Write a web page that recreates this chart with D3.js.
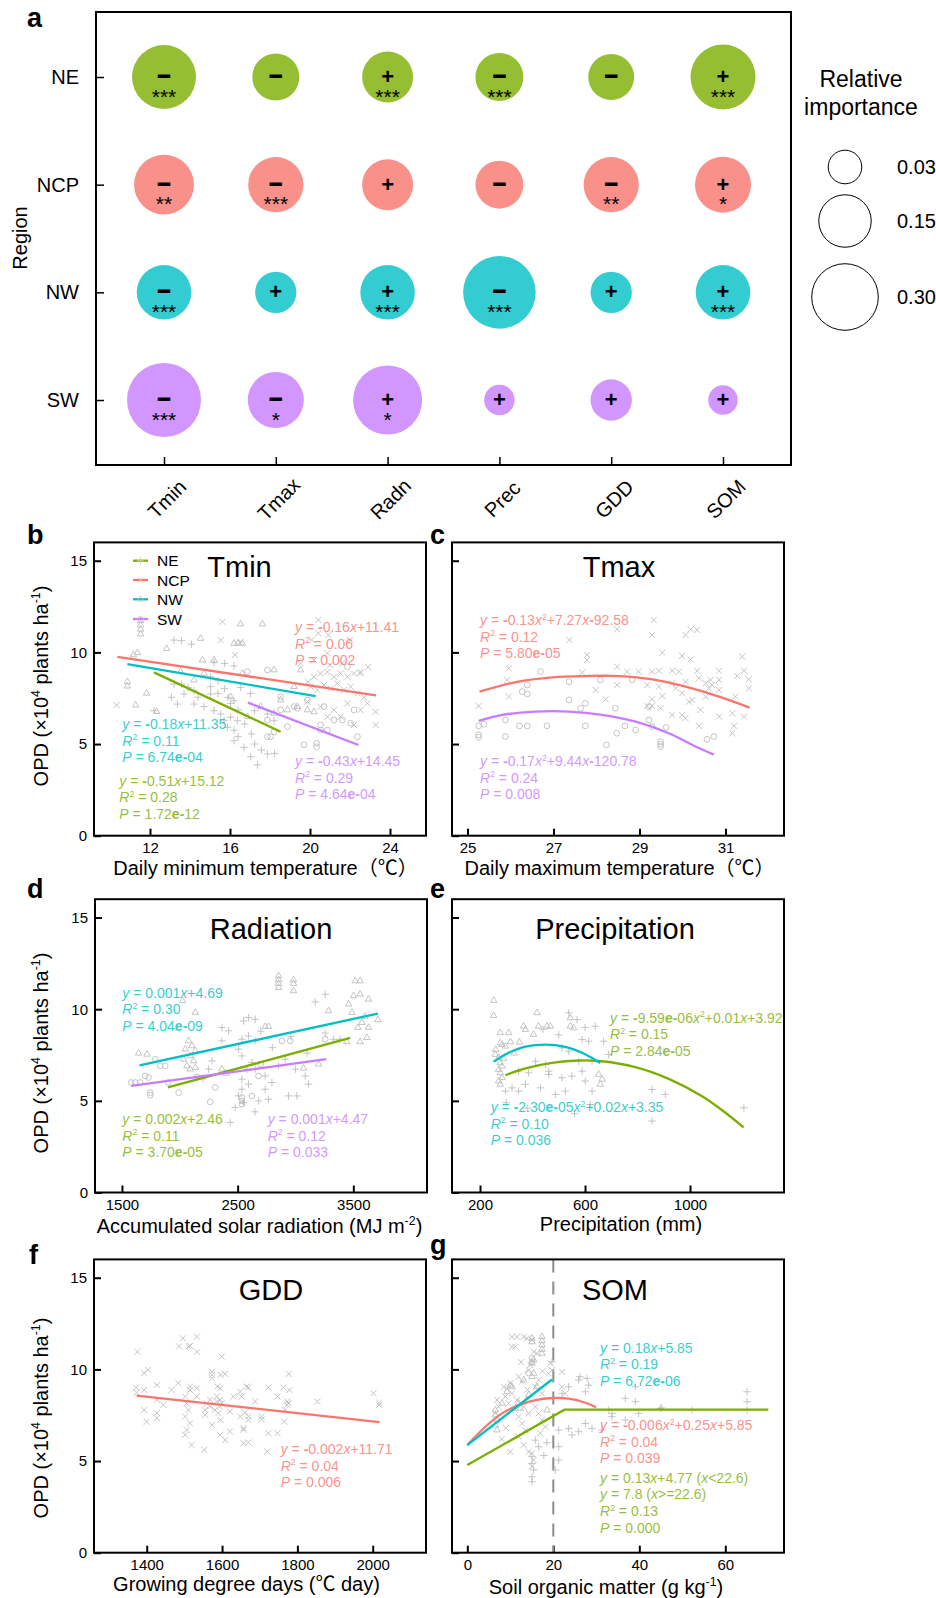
<!DOCTYPE html>
<html>
<head>
<meta charset="utf-8">
<script src="https://cdn.jsdelivr.net/npm/d3@7"></script>
<style>
  body { margin: 0; background: #fff; }
  text { font-family: "Liberation Sans", Arial, "Noto Sans CJK SC", sans-serif; }
</style>
</head>
<body>
<svg id="fig" width="936" height="1598"></svg>
<script>
// ---------- panel a data ----------
const regions = ["NE", "NCP", "NW", "SW"];
const factors = ["Tmin", "Tmax", "Radn", "Prec", "GDD", "SOM"];
const importance = [
  [0.268, 0.106, 0.137, 0.113, 0.098, 0.280],
  [0.222, 0.175, 0.137, 0.113, 0.175, 0.183],
  [0.169, 0.068, 0.169, 0.379, 0.068, 0.169],
  [0.399, 0.183, 0.331, 0.019, 0.068, 0.016]
];
const effectSign = [
  ["-", "-", "+", "-", "-", "+"],
  ["-", "-", "+", "-", "-", "+"],
  ["-", "+", "+", "-", "+", "+"],
  ["-", "-", "+", "+", "+", "+"]
];
const signif = [
  ["***", "", "***", "***", "", "***"],
  ["**", "***", "", "", "**", "*"],
  ["***", "", "***", "***", "", "***"],
  ["***", "*", "*", "", "", ""]
];
const legendSizes = [0.03, 0.15, 0.30];

// ---------- scatter data (x, OPD) ----------
const tminNE = [[13.2,10.67],[13.57,10.64],[14.07,10.45],[15.2,9.44],[15.73,9.4],[16.2,9.26],[13.2,8.27],[13.57,8.27],[13.9,8.09],[14.2,7.91],[14.4,7.55],[15.03,7.73],[15.4,7.76],[15.73,8.02],[15.9,7.55],[16.2,7.36],[16.4,6.86],[16.03,6.46],[16.37,6.27],[16.73,6.09],[17.07,5.55],[17.23,5.0],[17.57,4.67],[17.87,4.46],[18.23,4.49],[17.37,3.86],[17.03,4.31],[16.7,4.82],[16.2,5.18],[16.4,5.4],[15.87,5.91],[15.7,6.27],[15.2,6.82],[15.53,6.64],[14.7,7.04],[14.2,7.18],[13.7,7.73],[13.37,7.18],[12.2,6.82],[13.07,7.55],[17.03,7.76],[17.23,6.82],[17.87,6.64],[18.2,6.27],[15.03,8.67],[15.4,8.45],[16.53,8.09],[16.2,5.76],[16.03,7.22],[15.03,8.13]];
const tminNCP = [[15.62,11.67],[15.53,10.67],[16.53,10.58],[20.42,11.77],[20.42,11.04],[20.92,10.95],[20.08,10.68],[22.0,10.68],[16.25,9.86],[10.33,7.13],[20.2,8.67],[20.53,8.85],[20.87,8.93],[21.2,8.67],[21.53,8.85],[21.87,8.67],[22.2,8.85],[22.53,8.93],[20.03,8.13],[20.37,7.95],[20.7,8.22],[21.03,8.02],[21.37,8.31],[21.7,7.95],[22.03,8.13],[22.37,7.76],[22.7,7.55],[22.87,7.22],[23.28,6.76],[23.28,6.04],[21.87,7.22],[21.2,6.86],[20.87,6.49],[20.53,7.04],[19.87,7.31],[21.53,6.49],[22.2,6.04],[22.53,6.86],[20.2,9.58],[19.53,9.4],[20.87,9.95],[22.5,8.86],[21.0,9.3],[22.9,9.2],[19.9,8.4],[21.6,9.4]];
const tminNW = [[11.53,11.73],[11.53,11.49],[11.53,11.26],[11.53,11.0],[11.37,9.98],[11.17,9.86],[10.87,8.4],[10.87,8.16],[11.28,7.13],[12.33,6.77],[11.83,7.77],[12.83,10.2],[14.53,10.76],[16.53,11.55],[17.62,11.55],[16.2,10.49],[16.4,10.49],[16.62,10.49],[14.62,9.58],[15.2,9.58],[16.62,8.85],[14.7,8.85],[16.03,7.58],[18.2,9.04],[18.53,7.4],[19.2,8.13],[19.37,7.04],[19.87,6.86],[20.2,6.76],[17.53,7.04],[19.53,9.04],[16.87,6.49],[14.2,8.49],[13.53,8.95],[18.87,6.86],[18.2,6.67]];
const tminSW = [[16.87,8.95],[17.87,9.04],[19.37,6.95],[20.53,6.04],[20.87,5.76],[21.2,6.31],[21.62,6.31],[22.37,5.4],[19.7,4.95],[20.33,5.04],[20.33,4.85],[17.87,5.4],[18.03,5.4],[18.87,5.95],[18.53,6.86],[17.87,6.31],[19.87,7.4],[19.2,7.04],[20.7,7.04],[22.2,6.86],[22.03,6.13],[18.53,7.58],[21.87,9.22],[18.2,5.67],[20.53,5.76]];

const tmaxNCP = [[29.33,11.77],[28.48,11.26],[27.37,10.68],[29.29,10.95],[30.07,10.95],[30.19,11.26],[30.34,11.22],[27.78,9.86],[27.78,9.59],[29.53,9.99],[29.99,9.81],[30.19,9.62],[31.39,9.77],[25.96,9.13],[27.67,8.9],[28.48,9.22],[28.71,8.95],[28.98,8.95],[29.29,8.95],[29.45,9.0],[29.76,9.0],[29.92,8.95],[30.34,9.0],[30.85,9.0],[31.43,9.0],[31.27,8.71],[31.54,8.53],[31.54,8.04],[25.92,8.5],[25.96,7.59],[25.26,7.08],[27.98,7.95],[28.21,7.44],[28.48,8.22],[29.18,8.22],[29.29,7.44],[29.18,7.08],[29.29,7.08],[29.49,6.95],[29.53,7.62],[29.76,8.31],[29.84,8.04],[29.99,7.77],[30.07,8.4],[30.15,7.31],[30.23,7.4],[30.38,8.59],[30.54,8.31],[30.61,8.04],[30.69,8.22],[30.65,8.5],[30.42,6.86],[30.54,7.59],[30.85,8.5],[30.85,7.95],[29.76,6.59],[29.99,6.59],[30.07,6.41],[30.85,6.5],[31.16,6.68],[31.2,5.99],[31.16,5.59],[31.43,6.5],[30.38,5.99],[31.23,7.59],[29.45,8.13]];
const tmaxSW = [[26.7,8.95],[27.36,8.4],[26.39,8.22],[26.27,7.86],[26.39,7.73],[28.09,8.5],[28.83,8.5],[27.36,7.41],[27.74,7.22],[27.63,6.95],[28.44,6.95],[29.22,7.04],[25.88,6.31],[25.26,5.99],[25.38,6.08],[25.26,5.5],[25.26,5.37],[25.88,5.41],[26.21,5.99],[26.39,5.99],[26.85,5.99],[27.74,5.99],[28.66,5.99],[28.47,5.59],[29.22,6.31],[29.29,5.95],[29.62,5.91],[29.49,5.13],[29.49,4.99],[29.49,4.86],[28.23,4.95],[30.57,5.26],[30.73,5.41],[28.91,5.77]];

const radnNE = [[2594,9.54],[2652,9.45],[2551,9.36],[2364,9.0],[2422,8.82],[2537,8.36],[2594,8.54],[2652,8.27],[2364,8.27],[2278,7.18],[2249,6.73],[2508,7.82],[2537,7.45],[2623,7.09],[2652,6.73],[2580,6.73],[2537,6.18],[2594,5.91],[2537,5.63],[2508,5.27],[2551,4.91],[2479,4.64],[2436,3.82],[2681,5.0],[2767,5.09],[2738,5.63],[2796,6.0],[2738,6.36],[2854,6.91],[2911,7.27],[3000,6.73],[3084,6.36],[3113,5.91],[2940,5.27],[3012,5.27],[3171,10.4],[3257,10.82],[3257,8.7],[3330,8.36],[3385,8.36],[3100,7.6],[2800,7.9],[2960,8.5],[2700,8.8],[2200,6.2],[2650,4.4]];
const radnNW = [[2854,11.82],[2854,11.6],[2854,11.4],[2854,11.18],[2983,11.6],[2983,11.4],[2983,11.0],[3516,11.54],[3559,11.54],[3559,10.82],[3502,10.73],[3631,10.54],[3459,10.27],[3488,9.82],[3574,9.27],[3631,9.0],[3712,9.42],[3444,8.22],[3559,8.22],[3617,8.45],[3286,9.91],[2076,8.27],[2105,8.0],[2047,7.82],[2134,7.73],[2090,7.45],[2033,7.27],[2119,7.18],[2061,6.91],[2134,6.82],[2090,6.73],[2024,10.45],[2134,9.82],[1644,7.6],[1716,7.54],[2364,6.73],[2738,9.05],[2767,9.05],[3070,6.78],[2400,6.5],[3200,7.0],[3540,9.0],[3600,9.6]];
const radnSW = [[1580,6.0],[1615,6.0],[1658,6.0],[1701,6.36],[1730,6.27],[1745,5.45],[1745,5.31],[1788,7.27],[1831,6.91],[1874,6.91],[1990,5.45],[2263,4.94],[2306,5.73],[2537,5.18],[2537,5.0],[2537,4.82],[2623,5.27],[2681,6.36],[2883,8.27],[2955,8.27],[3257,8.36],[1900,6.0],[2150,6.3],[2700,7.0]];

const precNE = [[538,9.8],[570,9.43],[639,9.07],[589,8.34],[614,8.25],[671,8.25],[512,7.89],[538,7.71],[411,7.16],[449,6.98],[347,6.62],[385,6.53],[462,6.62],[462,6.44],[512,6.26],[550,6.35],[589,6.62],[601,6.08],[322,5.71],[347,5.53],[373,5.9],[430,5.71],[487,5.35],[525,5.53],[627,5.53],[855,5.62],[906,5.35],[855,3.9],[1205,4.62],[297,5.53],[576,7.16],[627,7.16],[690,7.53],[500,8.6],[440,8.9],[600,9.0],[300,4.9],[380,4.6],[560,4.3],[620,4.8]];
const precNW = [[252,10.47],[252,9.65],[277,8.71],[309,8.71],[277,8.16],[284,8.07],[297,7.98],[316,8.22],[258,7.53],[271,7.35],[277,7.07],[284,6.89],[271,6.71],[277,6.53],[284,6.26],[271,6.08],[277,5.9],[366,9.07],[373,8.89],[417,9.8],[423,9.07],[455,9.07],[468,9.07],[404,8.62],[544,9.52],[544,9.07],[557,8.98],[652,6.44],[665,6.17],[658,5.9],[260,7.8],[290,7.3],[350,8.2],[330,7.6]];

const gddNCP = [[1375,10.97],[1393,9.79],[1404,9.97],[1372,9.01],[1373,8.74],[1393,8.88],[1393,7.79],[1400,7.15],[1427,9.15],[1427,8.34],[1427,7.61],[1427,7.34],[1444,8.06],[1466,8.88],[1484,9.25],[1486,11.25],[1496,11.7],[1511,11.25],[1515,11.28],[1533,11.79],[1533,10.97],[1502,8.52],[1506,8.15],[1511,7.79],[1502,7.43],[1515,7.06],[1506,6.7],[1515,8.88],[1515,9.06],[1533,8.97],[1533,8.52],[1519,5.88],[1502,6.43],[1553,5.61],[1559,8.15],[1555,7.79],[1568,7.97],[1568,8.34],[1555,7.52],[1573,9.88],[1573,9.7],[1573,9.52],[1586,8.52],[1586,8.25],[1595,7.97],[1581,7.79],[1590,7.61],[1595,8.34],[1599,8.15],[1588,9.06],[1595,8.97],[1599,10.7],[1596,9.7],[1608,9.75],[1573,6.97],[1596,7.25],[1595,6.43],[1608,6.15],[1621,6.61],[1621,7.7],[1630,8.52],[1648,8.79],[1652,8.52],[1648,7.43],[1657,6.79],[1657,6.7],[1657,5.97],[1670,6.01],[1661,7.65],[1665,9.06],[1670,9.01],[1670,7.43],[1670,7.25],[1688,8.25],[1705,7.43],[1705,7.28],[1723,9.01],[1723,6.52],[1720,5.52],[1747,8.52],[1747,6.52],[1763,9.01],[1765,7.15],[1767,7.79],[1773,8.25],[1773,8.06],[1776,8.15],[1777,9.75],[1779,8.88],[1853,8.25],[2002,8.7],[2017,8.19],[2017,8.06]];

const somNCP = [[10.4,11.78],[11.56,11.78],[13.11,11.78],[13.88,11.69],[15.04,11.6],[8.46,9.05],[9.23,8.96],[10.0,9.24],[11.94,9.6],[12.72,9.33],[14.27,9.96],[14.66,10.24],[15.43,10.96],[16.2,10.87],[10.4,11.24],[11.17,11.24],[19.31,10.33],[19.7,9.96],[18.92,9.78],[22.02,9.87],[6.91,8.33],[7.29,7.96],[6.52,7.6],[7.68,7.24],[8.84,8.51],[9.62,8.15],[11.17,7.78],[11.94,7.42],[12.72,7.05],[13.49,6.69],[11.94,6.33],[13.11,5.87],[14.27,5.51],[10.0,5.51],[15.82,7.96],[16.59,7.6],[17.37,7.24],[18.15,6.87],[16.98,6.51],[22.02,9.05],[22.8,8.69],[15.82,9.05],[17.37,8.69],[16.59,9.42],[10.4,8.69],[11.56,8.33],[13.11,7.96],[14.27,7.6],[15.04,5.42],[15.43,5.05],[15.04,4.69],[9.0,6.8],[8.0,6.2],[14.0,8.9],[12.5,10.4],[17.5,9.9]];
const somNW = [[17.37,11.78],[17.37,11.56],[17.37,11.33],[17.37,11.09],[17.37,10.87],[15.04,11.69],[15.04,11.5],[15.43,10.51],[15.04,10.33],[15.43,9.78],[15.04,9.6],[10.4,9.05],[10.0,9.14],[13.11,9.42],[6.52,7.78],[6.52,7.51],[6.91,7.24],[6.52,6.96],[6.91,6.69],[8.07,8.15],[9.23,8.78],[11.94,8.15],[12.33,7.87],[14.27,8.6],[13.88,8.33],[16.2,9.05],[18.53,7.78]];
const somNE = [[19.7,10.42],[15.04,5.24],[15.04,4.87],[15.43,4.51],[15.04,4.14],[15.04,3.87],[15.82,6.14],[16.59,5.78],[21.25,6.69],[23.57,6.78],[24.35,6.42],[25.9,6.6],[25.9,9.42],[27.84,9.51],[28.22,9.14],[27.45,8.78],[23.57,9.05],[22.02,8.69],[36.75,8.42],[39.08,8.24],[39.08,9.05],[44.89,7.87],[52.26,7.78],[65.05,8.78],[65.05,8.24],[65.05,7.78],[27.45,7.05],[29.0,6.78],[21.25,5.78],[21.25,5.05],[20.47,4.51],[31.32,6.69],[36.75,7.24],[39.85,7.6],[32.87,7.78],[33.65,7.6],[26.2,9.6],[33.6,7.42],[45.2,7.9],[18.5,6.0],[17.8,5.3]];
const somSW = [[15.04,10.6],[15.04,10.42],[14.2,9.8]];

// ---------- fitted lines ----------
const tminFitNE = [[12.2,8.91],[18.53,5.67]];
const tminFitNCP = [[10.37,9.75],[23.3,7.66]];
const tminFitNW = [[10.87,9.36],[20.28,7.62]];
const tminFitSW = [[16.9,7.26],[22.42,4.95]];
const tmaxFitNCP = [[25.28,7.86],[26.19,8.41],[26.97,8.64],[27.74,8.71],[28.52,8.71],[29.3,8.53],[30.07,8.13],[30.85,7.59],[31.56,6.99]];
const tmaxFitSW = [[25.26,6.26],[25.81,6.59],[26.58,6.77],[27.36,6.77],[28.13,6.59],[28.91,6.22],[29.68,5.59],[30.23,4.95],[30.73,4.42]];
const radnFitNE = [[1897,5.74],[3473,8.43]];
const radnFitNW = [[1652,6.94],[3712,9.76]];
const radnFitSW = [[1580,5.82],[3266,7.27]];
const precFitNW = [[252,7.13],[309,7.62],[373,7.96],[449,8.07],[525,7.95],[589,7.62],[658,7.07]];
const precFitNE = [[297,6.4],[373,6.77],[474,7.07],[576,7.2],[665,7.16],[792,6.84],[919,6.2],[1046,5.25],[1135,4.35],[1204,3.55]];
const gddFitNCP = [[1373,8.57],[2018,7.12]];
const somFitNW = [[0,5.87],[19.7,9.45]];
const somFitNCP = [[0,5.87],[4.19,6.87],[8.07,7.6],[11.94,8.05],[15.82,8.33],[19.7,8.44],[23.57,8.4],[27.45,8.18],[29.93,7.93]];
const somFitNE = [[0,4.78],[22.6,7.8],[70,7.8]];
const somBreak = 20;

// ---------- equation labels ----------
const tminEqNCP = ["y = -0.16x+11.41", "R^{2} = 0.06", "P = 0.002"];
const tminEqNW = ["y = -0.18x+11.35", "R^{2} = 0.11", "P = 6.74e-04"];
const tminEqNE = ["y = -0.51x+15.12", "R^{2} = 0.28", "P = 1.72e-12"];
const tminEqSW = ["y = -0.43x+14.45", "R^{2} = 0.29", "P = 4.64e-04"];
const tmaxEqNCP = ["y = -0.13x^{2}+7.27x-92.58", "R^{2} = 0.12", "P = 5.80e-05"];
const tmaxEqSW = ["y = -0.17x^{2}+9.44x-120.78", "R^{2} = 0.24", "P = 0.008"];
const radnEqNW = ["y = 0.001x+4.69", "R^{2} = 0.30", "P = 4.04e-09"];
const radnEqNE = ["y = 0.002x+2.46", "R^{2} = 0.11", "P = 3.70e-05"];
const radnEqSW = ["y = 0.001x+4.47", "R^{2} = 0.12", "P = 0.033"];
const precEqNE = ["y = -9.59e-06x^{2}+0.01x+3.92", "R^{2} = 0.15", "P = 2.84e-05"];
const precEqNW = ["y = -2.30e-05x^{2}+0.02x+3.35", "R^{2} = 0.10", "P = 0.036"];
const gddEqNCP = ["y = -0.002x+11.71", "R^{2} = 0.04", "P = 0.006"];
const somEqNW = ["y = 0.18x+5.85", "R^{2} = 0.19", "P = 6.72e-06"];
const somEqNCP = ["y = -0.006x^{2}+0.25x+5.85", "R^{2} = 0.04", "P = 0.039"];
const somEqNE = ["y = 0.13x+4.77 (x<22.6)", "y = 7.8 (x>=22.6)", "R^{2} = 0.13", "P = 0.000"];

const colors = { NE: "#7CAE00", NCP: "#F8766D", NW: "#00BFC4", SW: "#C77CFF" };
const symbols = { NE: d3.symbolPlus, NCP: d3.symbolTimes, NW: d3.symbolTriangle2, SW: d3.symbolCircle };
const symSize = { NE: 20, NCP: 26, NW: 30, SW: 26 };

const svg = d3.select("#fig");

// text with ^{..} superscripts; eq=true also italicises y/x/R/P and bolds "-" and "e-"
function rich(sel, str, size, eq) {
  const runs = [];
  let i = 0;
  while (i < str.length) {
    if (str[i] === "^" && str[i + 1] === "{") {
      const j = str.indexOf("}", i);
      runs.push({ t: str.slice(i + 2, j), sup: true });
      i = j + 1;
      continue;
    }
    const ch = str[i];
    let st = "n";
    if (eq) {
      if ("yxRP".includes(ch)) st = "i";
      else if (ch === "-" || (ch === "e" && str[i + 1] === "-")) st = "b";
    }
    const last = runs[runs.length - 1];
    if (last && !last.sup && last.st === st) last.t += ch;
    else runs.push({ t: ch, st: st });
    i++;
  }
  let shift = 0;
  runs.forEach(r => {
    const t = sel.append("tspan").text(r.t);
    if (r.sup) {
      t.attr("font-size", size * 0.62).attr("dy", -size * 0.38);
      shift = size * 0.38;
    } else {
      if (shift) { t.attr("dy", shift); shift = 0; }
      if (r.st === "i") t.attr("font-style", "italic");
      if (r.st === "b") t.attr("font-weight", "bold");
    }
  });
}

// ================= panel a =================
const xa = d3.scalePoint().domain(factors).range([164, 723]);
const ya = d3.scalePoint().domain(regions).range([77, 400]);
const rScale = d3.scaleSqrt().domain([0.03, 0.30]).range([16.8, 33.3]);
const ga = svg.append("g");

ga.append("g").attr("transform", "translate(0,465)")
  .call(d3.axisBottom(xa).tickSize(-8).tickFormat(""))
  .call(g => g.select(".domain").remove())
  .selectAll("line").attr("stroke-width", 1.5);
ga.append("g").attr("transform", "translate(96,0)")
  .call(d3.axisLeft(ya).tickSize(-8).tickFormat(""))
  .call(g => g.select(".domain").remove())
  .selectAll("line").attr("stroke-width", 1.5);
ga.append("rect").attr("x", 96).attr("y", 12).attr("width", 695).attr("height", 453)
  .attr("fill", "none").attr("stroke", "#000").attr("stroke-width", 2);

regions.forEach((reg, i) => {
  factors.forEach((f, j) => {
    const cx = xa(f), cy = ya(reg);
    ga.append("circle").attr("cx", cx).attr("cy", cy).attr("r", rScale(importance[i][j]))
      .attr("fill", colors[reg]).attr("fill-opacity", 0.8);
    const s = effectSign[i][j];
    ga.append("text").attr("x", cx).attr("y", cy + 7)
      .attr("text-anchor", "middle")
      .attr("font-size", s === "-" ? 23 : 22).attr("font-weight", "bold")
      .attr("stroke", s === "-" ? "#000" : "none").attr("stroke-width", 0.9)
      .text(s === "-" ? "\u2212" : "+");
    if (signif[i][j]) {
      ga.append("text").attr("x", cx).attr("y", cy + 26.5).attr("text-anchor", "middle")
        .attr("font-size", 21).text(signif[i][j]);
    }
  });
  ga.append("text").attr("x", 79).attr("y", ya(reg) + 7).attr("text-anchor", "end")
    .attr("font-size", 20).text(reg);
});

factors.forEach(f => {
  ga.append("text").attr("transform", `translate(${xa(f) + 3},499) rotate(-45)`)
    .attr("text-anchor", "middle").attr("dy", "0.35em").attr("font-size", 20).text(f);
});
ga.append("text").attr("transform", "translate(27,238) rotate(-90)")
  .attr("text-anchor", "middle").attr("font-size", 20).text("Region");
ga.append("text").attr("x", 27).attr("y", 27).attr("font-size", 27).attr("font-weight", "bold").text("a");

ga.append("text").attr("x", 861).attr("y", 86.5).attr("text-anchor", "middle").attr("font-size", 23).text("Relative");
ga.append("text").attr("x", 861).attr("y", 115).attr("text-anchor", "middle").attr("font-size", 23).text("importance");
const legY = [167, 221, 297];
legendSizes.forEach((v, k) => {
  ga.append("circle").attr("cx", 845).attr("cy", legY[k]).attr("r", rScale(v))
    .attr("fill", "none").attr("stroke", "#000").attr("stroke-width", 1);
  ga.append("text").attr("x", 897).attr("y", legY[k] + 7).attr("font-size", 20).text(v.toFixed(2));
});

// ================= panels b-g =================
function panel(o) {
  const g = svg.append("g");
  const x = d3.scaleLinear().domain(o.xdom).range([o.x0, o.x1]);
  const y = d3.scaleLinear().domain([0, 16]).range([o.bottom, o.bottom - 293.3]);

  g.append("g").attr("transform", `translate(0,${o.bottom})`)
    .call(d3.axisBottom(x).tickValues(o.xticks).tickSize(-7).tickPadding(7).tickFormat(d3.format("d")))
    .call(s => s.select(".domain").remove())
    .call(s => s.selectAll("line").attr("stroke-width", 2))
    .call(s => s.selectAll("text").attr("font-size", 15).attr("font-family", null));
  g.append("g").attr("transform", `translate(${o.x0},0)`)
    .call(d3.axisLeft(y).tickValues([0, 5, 10, 15]).tickSize(-7).tickPadding(7)
      .tickFormat(o.ylab ? d3.format("d") : ""))
    .call(s => s.select(".domain").remove())
    .call(s => s.selectAll("line").attr("stroke-width", 2))
    .call(s => s.selectAll("text").attr("font-size", 15).attr("font-family", null));

  if (o.vline !== undefined) {
    g.append("line").attr("x1", x(o.vline)).attr("x2", x(o.vline))
      .attr("y1", y(16)).attr("y2", y(0))
      .attr("stroke", "#8c8c8c").attr("stroke-width", 2).attr("stroke-dasharray", "13,9");
  }

  o.points.forEach(p => {
    const sym = d3.symbol().type(symbols[p.reg]).size(symSize[p.reg]);
    g.append("g").selectAll("path").data(p.data).join("path")
      .attr("transform", d => `translate(${x(d[0])},${y(d[1])})`)
      .attr("d", sym).attr("fill", "none").attr("stroke", "#bdbdbd").attr("stroke-width", 0.9);
  });

  o.fits.forEach(f => {
    const line = d3.line().x(d => x(d[0])).y(d => y(d[1]))
      .curve(f.data.length > 3 ? d3.curveCatmullRom : d3.curveLinear);
    g.append("path").datum(f.data).attr("d", line).attr("fill", "none")
      .attr("stroke", colors[f.reg]).attr("stroke-width", 2.3);
  });

  o.eqs.forEach(e => {
    e.lines.forEach((ln, k) => {
      const t = g.append("text").attr("x", e.x).attr("y", e.y + k * 16.7)
        .attr("font-size", 14).attr("fill", colors[e.reg]).attr("fill-opacity", 0.8);
      rich(t, ln, 14, true);
    });
  });

  g.append("rect").attr("x", o.x0).attr("y", y(16)).attr("width", o.x1 - o.x0)
    .attr("height", y(0) - y(16)).attr("fill", "none").attr("stroke", "#000").attr("stroke-width", 2);

  g.append("text").attr("x", o.tx).attr("y", o.ty).attr("text-anchor", "middle")
    .attr("font-size", 29).text(o.title);
  const xt = g.append("text").attr("x", o.xtx).attr("y", o.xty).attr("text-anchor", "middle").attr("font-size", 20);
  rich(xt, o.xtitle, 20, false);
  if (o.ylab) {
    const yt = g.append("text").attr("transform", `translate(48,${o.ytc}) rotate(-90)`)
      .attr("text-anchor", "middle").attr("font-size", 20);
    rich(yt, "OPD (\u00d710^{4} plants ha^{-1})", 20, false);
  }
  g.append("text").attr("x", o.lx).attr("y", o.ly).attr("font-size", 27).attr("font-weight", "bold").text(o.label);
  return g;
}

panel({
  x0: 94, x1: 426, bottom: 835.7, xdom: [9.2, 25.8], xticks: [12, 16, 20, 24], ylab: true, ytc: 686,
  title: "Tmin", tx: 239.5, ty: 577, xtitle: "Daily minimum temperature\uff08\u2103\uff09", xtx: 265.5, xty: 875,
  label: "b", lx: 27, ly: 544,
  points: [{ reg: "NW", data: tminNW }, { reg: "NE", data: tminNE }, { reg: "NCP", data: tminNCP }, { reg: "SW", data: tminSW }],
  fits: [{ reg: "NCP", data: tminFitNCP }, { reg: "NW", data: tminFitNW }, { reg: "NE", data: tminFitNE }, { reg: "SW", data: tminFitSW }],
  eqs: [{ reg: "NCP", x: 295, y: 632, lines: tminEqNCP }, { reg: "NW", x: 122.3, y: 729, lines: tminEqNW },
        { reg: "NE", x: 119.3, y: 785.5, lines: tminEqNE }, { reg: "SW", x: 295, y: 766, lines: tminEqSW }]
});

// legend of panel b
const legRegs = ["NE", "NCP", "NW", "SW"];
const legYs = [560.7, 580, 599.3, 619];
legRegs.forEach((r, k) => {
  svg.append("line").attr("x1", 133).attr("x2", 148).attr("y1", legYs[k]).attr("y2", legYs[k])
    .attr("stroke", colors[r]).attr("stroke-width", 2.3);
  svg.append("path").attr("transform", `translate(140.5,${legYs[k]})`)
    .attr("d", d3.symbol().type(symbols[r]).size(symSize[r])).attr("fill", "none")
    .attr("stroke", "#ccc").attr("stroke-width", 0.8);
  svg.append("text").attr("x", 157).attr("y", legYs[k] + 5.5).attr("font-size", 15.5).text(r);
});

panel({
  x0: 452, x1: 784, bottom: 835.7, xdom: [24.64, 32.36], xticks: [25, 27, 29, 31], ylab: false,
  title: "Tmax", tx: 619, ty: 577, xtitle: "Daily maximum temperature\uff08\u2103\uff09", xtx: 619.5, xty: 875,
  label: "c", lx: 430, ly: 544,
  points: [{ reg: "NCP", data: tmaxNCP }, { reg: "SW", data: tmaxSW }],
  fits: [{ reg: "NCP", data: tmaxFitNCP }, { reg: "SW", data: tmaxFitSW }],
  eqs: [{ reg: "NCP", x: 480, y: 625, lines: tmaxEqNCP }, { reg: "SW", x: 480, y: 766, lines: tmaxEqSW }]
});

panel({
  x0: 95, x1: 427, bottom: 1192.5, xdom: [1267, 4137], xticks: [1500, 2500, 3500], ylab: true, ytc: 1053,
  title: "Radiation", tx: 271, ty: 939, xtitle: "Accumulated solar radiation (MJ m^{-2})", xtx: 259.5, xty: 1233,
  label: "d", lx: 27, ly: 898,
  points: [{ reg: "NW", data: radnNW }, { reg: "NE", data: radnNE }, { reg: "SW", data: radnSW }],
  fits: [{ reg: "NW", data: radnFitNW }, { reg: "NE", data: radnFitNE }, { reg: "SW", data: radnFitSW }],
  eqs: [{ reg: "NW", x: 122.3, y: 997.5, lines: radnEqNW }, { reg: "NE", x: 122.3, y: 1124, lines: radnEqNE },
        { reg: "SW", x: 267.7, y: 1124, lines: radnEqSW }]
});

panel({
  x0: 452, x1: 784, bottom: 1192.5, xdom: [93.3, 1358], xticks: [200, 600, 1000], ylab: false,
  title: "Precipitation", tx: 615, ty: 939, xtitle: "Precipitation (mm)", xtx: 621, xty: 1231,
  label: "e", lx: 430, ly: 898,
  points: [{ reg: "NW", data: precNW }, { reg: "NE", data: precNE }],
  fits: [{ reg: "NE", data: precFitNE }, { reg: "NW", data: precFitNW }],
  eqs: [{ reg: "NE", x: 610, y: 1022.5, lines: precEqNE }, { reg: "NW", x: 490.7, y: 1112, lines: precEqNW }]
});

panel({
  x0: 94, x1: 426, bottom: 1552.7, xdom: [1260, 2141.5], xticks: [1400, 1600, 1800, 2000], ylab: true, ytc: 1418,
  title: "GDD", tx: 271, ty: 1300, xtitle: "Growing degree days (\u2103 day)", xtx: 246.5, xty: 1591,
  label: "f", lx: 29, ly: 1264,
  points: [{ reg: "NCP", data: gddNCP }],
  fits: [{ reg: "NCP", data: gddFitNCP }],
  eqs: [{ reg: "NCP", x: 280.7, y: 1454, lines: gddEqNCP }]
});

panel({
  x0: 452, x1: 784, bottom: 1552.7, xdom: [-3.56, 73.65], xticks: [0, 20, 40, 60], ylab: false, vline: somBreak,
  title: "SOM", tx: 615, ty: 1300, xtitle: "Soil organic matter (g kg^{-1})", xtx: 606, xty: 1594,
  label: "g", lx: 430, ly: 1254,
  points: [{ reg: "NCP", data: somNCP }, { reg: "NW", data: somNW }, { reg: "NE", data: somNE }, { reg: "SW", data: somSW }],
  fits: [{ reg: "NCP", data: somFitNCP }, { reg: "NW", data: somFitNW }, { reg: "NE", data: somFitNE }],
  eqs: [{ reg: "NW", x: 600, y: 1352.5, lines: somEqNW }, { reg: "NCP", x: 600, y: 1430, lines: somEqNCP },
        { reg: "NE", x: 600, y: 1482.5, lines: somEqNE }]
});
</script>
</body>
</html>
